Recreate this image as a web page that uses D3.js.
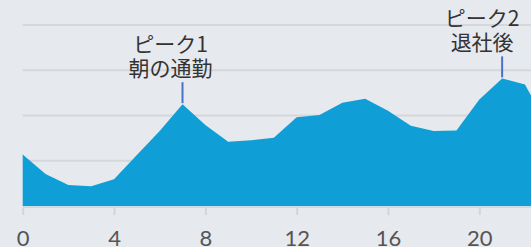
<!DOCTYPE html>
<html><head><meta charset="utf-8">
<script src="https://cdn.jsdelivr.net/npm/d3@7"></script>
<style>
html,body{margin:0;padding:0;background:#e6e9ee;overflow:hidden;}
svg{display:block;}
</style></head>
<body>
<svg id="chart" width="531" height="247"></svg>
<script>
const hours = d3.range(0, 24);
const traffic = [22.8, 14.1, 9.3, 8.7, 11.8, 22.5, 33.2, 45.0, 35.8, 28.4, 29.1, 30.2,
                 39.2, 40.2, 45.6, 47.4, 42.1, 35.5, 33.1, 33.4, 47.1, 56.4, 53.7, 35.5];
const xTicks = [0, 4, 8, 12, 16, 20];
const yGrid = [0, 20, 40, 60, 80];
const peakHours = [7, 21];
const peakTitles = ["ピーク1", "ピーク2"];
const peakLabels = ["朝の通勤", "退社後"];
const peakTextShift = [-12, -20];

const svg = d3.select("#chart");
const x = d3.scaleLinear().domain([0, 23]).range([22.7, 547.8]);
const y = d3.scaleLinear().domain([0, 80]).range([206, 25]);

// gridlines
svg.append("g").selectAll("line").data(yGrid.filter(v => v > 0)).join("line")
  .attr("x1", x(0)).attr("x2", 531)
  .attr("y1", d => y(d)).attr("y2", d => y(d))
  .attr("stroke", "#d5d7da").attr("stroke-width", 2);

// area
const area = d3.area().x((d, i) => x(hours[i])).y0(y(0)).y1(d => y(d));
svg.append("path").datum(traffic).attr("d", area).attr("fill", "#0f9fd6");

// x axis
const axis = d3.axisBottom(x).tickValues(xTicks).tickSize(9).tickPadding(6).tickFormat(d3.format("d"));
const gx = svg.append("g").attr("transform", `translate(0,${y(0)})`).call(axis);
gx.select(".domain").attr("stroke", "#cfd9e2").attr("stroke-width", 2).attr("d", `M${x(0)},1H600`);
gx.selectAll(".tick line").attr("stroke", "#d3d5d8").attr("stroke-width", 2).attr("y1", 2);
gx.selectAll(".tick text").attr("fill", "#555").attr("font-family", "Lato, sans-serif")
  .attr("font-size", 22).attr("y", 39.5).attr("dy", 0);

// annotations
const ann = svg.append("g");
peakHours.forEach((h, i) => {
  const px = x(h), py = y(traffic[h]);
  ann.append("line").attr("x1", px).attr("x2", px).attr("y1", py - 1).attr("y2", py - 22)
    .attr("stroke", "#4a72c8").attr("stroke-width", 2);
  const t = ann.append("text").attr("text-anchor", "middle")
    .attr("font-family", "'Noto Sans CJK JP', sans-serif").attr("font-size", 21).attr("fill", "#333");
  t.append("tspan").attr("x", px + peakTextShift[i]).attr("y", py - 52).text(peakTitles[i]);
  t.append("tspan").attr("x", px + peakTextShift[i]).attr("y", py - 28).text(peakLabels[i]);
});
</script>
</body></html>
